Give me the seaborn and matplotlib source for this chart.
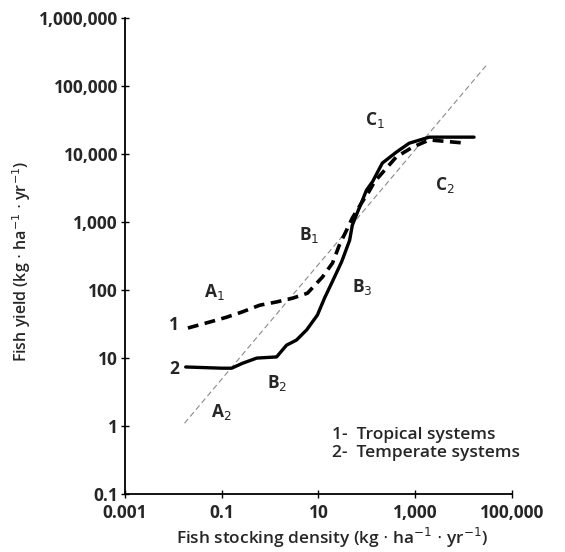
import matplotlib
matplotlib.use("Agg")
import matplotlib.pyplot as plt
import seaborn as sns
import pandas as pd

# ---- data ----
trop_x = [0.02, 0.057, 0.127, 0.27, 0.61, 1.36, 2.9, 5.9, 12, 19.5, 27, 38, 50,
          77, 110, 143, 230, 406, 867, 1950, 11200]
trop_y = [27.7, 34, 40, 48, 60, 67, 76, 90, 155, 250, 460, 760, 1150,
          1900, 2800, 3900, 5750, 9100, 12600, 16200, 14500]

temp_x = [0.018, 0.1, 0.16, 0.27, 0.53, 1.36, 2.19, 3.5, 5.7, 9.5, 13.3, 19.5, 30,
          44, 50, 64, 81, 98, 130, 209, 406, 750, 1950, 16400]
temp_y = [7.4, 7.1, 7.1, 8.4, 10, 10.4, 15.5, 18.4, 26, 43, 76, 135, 260,
          540, 900, 1400, 2100, 2950, 3900, 7400, 10700, 14500, 17800, 17800]

ref_x = [0.017, 29000]
ref_y = [1.1, 200000]

xticks = [0.001, 0.1, 10, 1000, 100000]
xtick_labels = ["0.001", "0.1", "10", "1,000", "100,000"]
yticks = [0.1, 1, 10, 100, 1000, 10000, 100000, 1000000]
ytick_labels = ["0.1", "1", "10", "100", "1,000", "10,000", "100,000", "1,000,000"]

region_labels = ["A$_1$", "A$_2$", "B$_1$", "B$_2$", "B$_3$", "C$_1$", "C$_2$", "1", "2"]
region_x = [0.072, 0.1, 6.5, 1.43, 81, 150, 4000, 0.0105, 0.0105]
region_y = [94, 1.6, 650, 4.3, 110, 31600, 3470, 30.5, 7.0]

legend_lines = ["1-  Tropical systems", "2-  Temperate systems"]

# ---- plotting ----
sns.set_theme(style="white")
plt.rcParams["font.family"] = ["Open Sans", "DejaVu Sans"]

fig = plt.figure(figsize=(5.65, 5.52), dpi=100)
ax = fig.add_axes([0.2212, 0.105, 0.685, 0.862])

df_trop = pd.DataFrame({"x": trop_x, "y": trop_y})
df_temp = pd.DataFrame({"x": temp_x, "y": temp_y})
df_ref = pd.DataFrame({"x": ref_x, "y": ref_y})

sns.lineplot(data=df_ref, x="x", y="y", ax=ax, color="#8a8a8a", lw=0.8,
             linestyle=(0, (5, 3)), sort=False, estimator=None)
sns.lineplot(data=df_trop, x="x", y="y", ax=ax, color="black", lw=2.6,
             linestyle=(0, (3, 1.8)), sort=False, estimator=None)
sns.lineplot(data=df_temp, x="x", y="y", ax=ax, color="black", lw=2.4,
             sort=False, estimator=None)

ax.set_xscale("log")
ax.set_yscale("log")
ax.set_xlim(0.001, 100000)
ax.set_ylim(0.1, 1000000)

ax.set_xticks(xticks)
ax.set_xticklabels(xtick_labels, fontsize=12.5, fontweight="bold")
ax.set_yticks(yticks)
ax.set_yticklabels(ytick_labels, fontsize=12.5, fontweight="bold")
ax.minorticks_off()
ax.tick_params(axis="both", which="major", direction="inout", length=6,
               width=1, color="black", bottom=True, left=True)
ax.tick_params(axis="x", pad=4)
ax.tick_params(axis="y", pad=2)

for s in ["top", "right"]:
    ax.spines[s].set_visible(False)
for s in ["left", "bottom"]:
    ax.spines[s].set_color("black")
    ax.spines[s].set_linewidth(1.3)

ax.set_xlabel("Fish stocking density (kg $\\cdot$ ha$^{-1}$ $\\cdot$ yr$^{-1}$)",
              fontsize=12.4, fontweight="semibold")
ax.set_ylabel("Fish yield (kg $\\cdot$ ha$^{-1}$ $\\cdot$ yr$^{-1}$)",
              fontsize=11.5, fontweight="semibold")
ax.xaxis.set_label_coords(0.535, -0.066)
ax.yaxis.set_label_coords(-0.237, 0.49)

for t, x, y in zip(region_labels, region_x, region_y):
    ax.text(x, y, t, fontsize=12.5, fontweight="bold", ha="center", va="center")

for i, line in enumerate(legend_lines):
    ax.text(0.535, 0.125 - i * 0.038, line, transform=ax.transAxes,
            fontsize=12.5, fontweight="semibold", ha="left", va="center")

fig.savefig("out.png", dpi=100)
